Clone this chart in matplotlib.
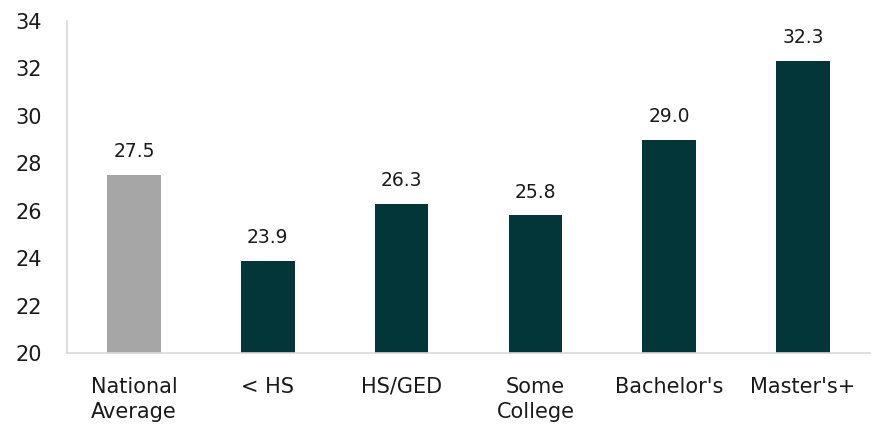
import matplotlib
matplotlib.use("Agg")
import matplotlib.pyplot as plt

categories = ["National\nAverage", "< HS", "HS/GED", "Some\nCollege", "Bachelor's", "Master's+"]
values = [27.5, 23.9, 26.3, 25.8, 29.0, 32.3]
colors = ["#a6a6a6", "#023638", "#023638", "#023638", "#023638", "#023638"]
yticks = [20, 22, 24, 26, 28, 30, 32, 34]

plt.rcParams["font.family"] = ["DejaVu Sans"]

fig = plt.figure(figsize=(8.77, 4.33), dpi=100)
ax = fig.add_axes([0.0764, 0.1848, 0.9156, 0.7667])

x = range(len(categories))
ax.bar(x, values, width=0.4, color=colors, bottom=0)
ax.set_ylim(20, 34)
ax.set_xlim(-0.5, len(categories) - 0.5)
ax.set_yticks(yticks)
ax.set_xticks(list(x))
ax.set_xticklabels(categories, fontsize=15, color="#1a1a1a", linespacing=1.35)
ax.tick_params(axis="y", labelsize=15, colors="#1a1a1a", length=0, pad=18)
ax.tick_params(axis="x", length=0, pad=17)

for s in ["top", "right"]:
    ax.spines[s].set_visible(False)
for s in ["left", "bottom"]:
    ax.spines[s].set_color("#d9d9d9")
    ax.spines[s].set_linewidth(1.2)

for xi, v in zip(x, values):
    ax.annotate(f"{v:.1f}", (xi, v), xytext=(0, 10), textcoords="offset points",
                ha="center", va="bottom", fontsize=13.5, color="#1a1a1a")

fig.savefig("out.png", dpi=100)
